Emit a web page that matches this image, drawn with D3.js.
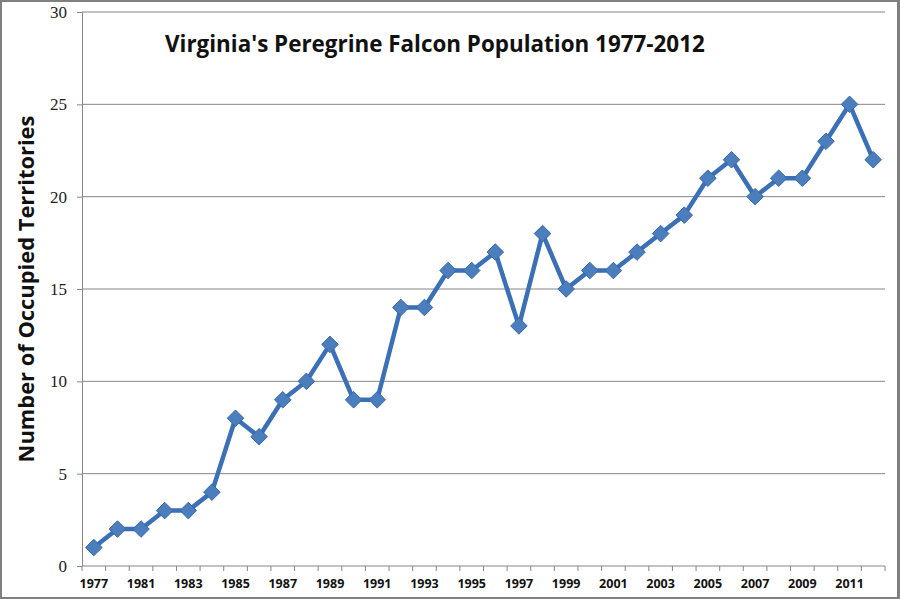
<!DOCTYPE html>
<html>
<head>
<meta charset="utf-8">
<script src="https://cdn.jsdelivr.net/npm/d3@7"></script>
<style>
  html, body { margin: 0; padding: 0; background: #fff; }
  svg { display: block; }
</style>
</head>
<body>
<div class="chart"></div>
<script>
// survey years (second one is never labelled on the axis)
var years = ['1977', '1980', '1981', '1982', '1983', '1984', '1985', '1986', '1987', '1988',
             '1989', '1990', '1991', '1992', '1993', '1994', '1995', '1996', '1997', '1998',
             '1999', '2000', '2001', '2002', '2003', '2004', '2005', '2006', '2007', '2008',
             '2009', '2010', '2011', '2012'];
// occupied territories per year
var territories = [1, 2, 2, 3, 3, 4, 8, 7, 9, 10,
                   12, 9, 9, 14, 14, 16, 16, 17, 13, 18,
                   15, 16, 16, 17, 18, 19, 21, 22, 20, 21,
                   21, 23, 25, 22];
var yTicks = [0, 5, 10, 15, 20, 25, 30];

var W = 900, H = 599;
var margin = { top: 12, right: 15, bottom: 33, left: 82 };
var width  = W - margin.left - margin.right;
var height = H - margin.top - margin.bottom;

var data = years.map((y, i) => { return { year: y, value: territories[i] }; });

var svg = d3.select('.chart').append('svg')
    .attr('width', W)
    .attr('height', H);

// outer frame
svg.append('rect')
    .attr('x', 1).attr('y', 1)
    .attr('width', W - 3).attr('height', H - 2)
    .attr('fill', '#fff')
    .attr('stroke', '#808080')
    .attr('stroke-width', 2);
svg.append('rect')
    .attr('x', W - 3).attr('y', 0)
    .attr('width', 3).attr('height', H)
    .attr('fill', '#808080');

var g = svg.append('g')
    .attr('transform', `translate(${margin.left}, ${margin.top})`);

var x = d3.scaleBand()
    .domain(years)
    .range([0, width]);
var y = d3.scaleLinear()
    .domain([0, 30])
    .range([height, 0]);

// gridlines
g.append('g')
    .selectAll('line')
    .data(yTicks.filter((d) => { return d > 0; }))
    .enter().append('line')
    .attr('x1', 0).attr('x2', width)
    .attr('y1', (d) => { return y(d); })
    .attr('y2', (d) => { return y(d); })
    .attr('stroke', '#868686')
    .attr('stroke-width', 1);

// y axis
var yAxis = g.append('g')
    .call(d3.axisLeft(y).tickValues(yTicks).tickSize(5).tickPadding(10));
yAxis.select('.domain').attr('stroke', '#868686');
yAxis.selectAll('.tick line').attr('stroke', '#868686');
yAxis.selectAll('text')
    .attr('font-family', '"Liberation Serif", serif')
    .attr('font-size', 17)
    .attr('fill', '#222');

// x axis: ticks on category boundaries, labels every other category
var xAxis = g.append('g')
    .attr('transform', `translate(0, ${height})`);
xAxis.append('line')
    .attr('x1', 0).attr('x2', width)
    .attr('stroke', '#868686');
xAxis.selectAll('.tk')
    .data(years.concat(['end']))
    .enter().append('line')
    .attr('class', 'tk')
    .attr('x1', (d, i) => { return i * x.bandwidth(); })
    .attr('x2', (d, i) => { return i * x.bandwidth(); })
    .attr('y1', 0).attr('y2', 5)
    .attr('stroke', '#868686');
xAxis.selectAll('text')
    .data(years.filter((d, i) => { return i % 2 === 0; }))
    .enter().append('text')
    .attr('x', (d) => { return x(d) + x.bandwidth() / 2; })
    .attr('y', 22)
    .attr('text-anchor', 'middle')
    .attr('font-family', '"Open Sans", sans-serif')
    .attr('font-weight', 'bold')
    .attr('font-size', 12.5)
    .attr('fill', '#111')
    .text((d) => { return d; });

// line
var line = d3.line()
    .x((d) => { return x(d.year) + x.bandwidth() / 2; })
    .y((d) => { return y(d.value); });

g.append('path')
    .datum(data)
    .attr('d', line)
    .attr('fill', 'none')
    .attr('stroke', '#3b6fb6')
    .attr('stroke-width', 4.5)
    .attr('stroke-linejoin', 'round');

// diamond markers
g.selectAll('.pt')
    .data(data)
    .enter().append('path')
    .attr('class', 'pt')
    .attr('d', d3.symbol().type(d3.symbolDiamond2).size(175))
    .attr('transform', (d) => {
        return `translate(${x(d.year) + x.bandwidth() / 2}, ${y(d.value)})`;
    })
    .attr('fill', '#4a7ebd')
    .attr('stroke', '#3a68a6')
    .attr('stroke-width', 1);

// fit text to a given width by adjusting the font size
function fitWidth(sel, target){
    var w = sel.node().getComputedTextLength();
    var fs = parseFloat(sel.attr('font-size'));
    sel.attr('font-size', fs * target / w);
}

// title
var title = svg.append('text')
    .attr('x', 165)
    .attr('y', 52)
    .attr('font-family', '"Open Sans", sans-serif')
    .attr('font-weight', 'bold')
    .attr('font-size', 20)
    .attr('fill', '#111')
    .text("Virginia's Peregrine Falcon Population 1977-2012");
fitWidth(title, 540);

// y axis title
var yTitle = svg.append('text')
    .attr('transform', 'translate(34, 289) rotate(-90)')
    .attr('text-anchor', 'middle')
    .attr('font-family', '"Open Sans", sans-serif')
    .attr('font-weight', 'bold')
    .attr('font-size', 21)
    .attr('fill', '#111')
    .text('Number of Occupied Territories');
fitWidth(yTitle, 347);
</script>
</body>
</html>
